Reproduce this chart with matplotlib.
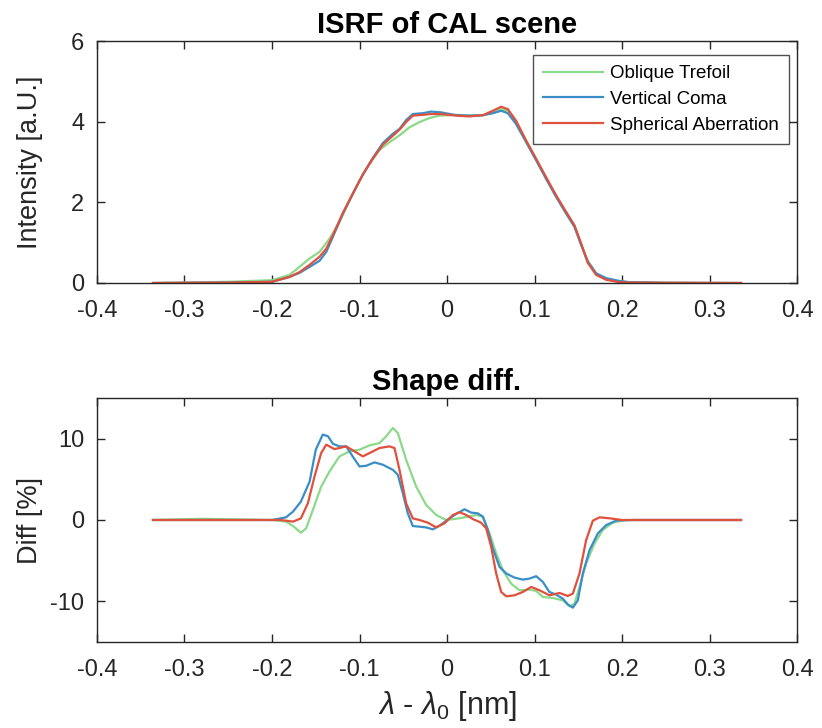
import matplotlib
matplotlib.use("Agg")
import matplotlib.pyplot as plt

plt.rcParams['font.family'] = ['Liberation Sans', 'DejaVu Sans']
plt.rcParams['mathtext.fontset'] = 'custom'
plt.rcParams['mathtext.rm'] = 'Liberation Sans'
plt.rcParams['mathtext.it'] = 'Liberation Sans:italic'

labels = ["Oblique Trefoil", "Vertical Coma", "Spherical Aberration"]
colors = ["#8cd98a", "#3a8ec8", "#e0503c"]

# ---- top panel: ISRF intensity [a.U.] ----
top_x_green = [-0.336, -0.3, -0.25, -0.2, -0.18, -0.1686, -0.157, -0.1457, -0.1343, -0.1229, -0.1114,
               -0.1, -0.0886, -0.0771, -0.0657, -0.0543, -0.0429, -0.0314, -0.02, -0.0086, 0.0029,
               0.0105, 0.0257, 0.041, 0.0524, 0.0619, 0.0695, 0.079, 0.0905, 0.1019, 0.1133,
               0.1248, 0.1362, 0.1457, 0.1533, 0.1609, 0.1705, 0.1819, 0.1971, 0.2086, 0.25, 0.336]
top_y_green = [0, 0.01, 0.03, 0.07, 0.2, 0.4, 0.61, 0.77, 1.1, 1.51, 2.05,
               2.54, 2.96, 3.3, 3.49, 3.66, 3.86, 3.99, 4.09, 4.15, 4.16,
               4.17, 4.15, 4.16, 4.22, 4.31, 4.27, 3.97, 3.51, 3.06, 2.6,
               2.15, 1.74, 1.41, 0.96, 0.55, 0.22, 0.1, 0.04, 0.02, 0.005, 0]

top_x_blue = [-0.336, -0.3, -0.25, -0.2, -0.18, -0.1686, -0.157, -0.1457, -0.138, -0.1305, -0.119,
              -0.1076, -0.0962, -0.0848, -0.0733, -0.0619, -0.0543, -0.0467, -0.039, -0.0276, -0.018,
              -0.0066, 0.0105, 0.0257, 0.041, 0.0524, 0.0619, 0.0695, 0.079, 0.0905, 0.1019,
              0.1133, 0.1248, 0.1362, 0.1457, 0.1533, 0.1609, 0.1705, 0.1819, 0.1971, 0.2086, 0.25, 0.336]
top_y_blue = [0, 0.005, 0.01, 0.03, 0.15, 0.25, 0.4, 0.55, 0.77, 1.14, 1.72,
              2.21, 2.69, 3.1, 3.47, 3.7, 3.82, 4.04, 4.19, 4.21, 4.25,
              4.23, 4.16, 4.15, 4.16, 4.21, 4.27, 4.21, 3.94, 3.49, 3.04,
              2.58, 2.13, 1.72, 1.39, 0.94, 0.53, 0.24, 0.12, 0.05, 0.02, 0.005, 0]

top_x_red = top_x_blue
top_y_red = [0, 0.005, 0.01, 0.03, 0.15, 0.27, 0.45, 0.65, 0.85, 1.18, 1.74,
             2.22, 2.69, 3.08, 3.43, 3.65, 3.8, 3.99, 4.15, 4.17, 4.19,
             4.19, 4.15, 4.13, 4.16, 4.27, 4.37, 4.31, 4.02, 3.53, 3.08,
             2.62, 2.17, 1.76, 1.43, 0.98, 0.5, 0.2, 0.08, 0.02, 0.01, 0.005, 0]

# ---- bottom panel: shape difference [%] ----
bot_x_green = [-0.336, -0.28, -0.2, -0.184, -0.176, -0.167, -0.161, -0.1533, -0.1438, -0.1343, -0.1229,
               -0.1114, -0.1, -0.0886, -0.0771, -0.0695, -0.0619, -0.0562, -0.0467, -0.0352, -0.0238,
               -0.0124, -0.0009, 0.0143, 0.0238, 0.0333, 0.041, 0.0486, 0.0562, 0.0638, 0.0733,
               0.0829, 0.0943, 0.1019, 0.1095, 0.121, 0.1324, 0.14, 0.1457, 0.1514, 0.159,
               0.1686, 0.178, 0.1895, 0.2029, 0.25, 0.336]
bot_y_green = [0, 0.15, 0, -0.2, -0.74, -1.56, -1.03, 1.23, 4.1, 5.97, 7.82,
               8.44, 8.64, 9.18, 9.46, 10.3, 11.32, 10.7, 7.41, 4.1, 1.85,
               0.62, 0, 0.21, 0.41, 0.62, 0.41, -1.65, -4.1, -6.17, -7.82,
               -8.64, -8.56, -8.72, -9.46, -9.59, -9.88, -10.62, -10.29, -8.23, -5.35,
               -2.88, -1.23, -0.33, 0, 0, 0]

bot_x_blue = [-0.336, -0.2, -0.184, -0.176, -0.167, -0.157, -0.15, -0.142, -0.136, -0.1305, -0.1229,
              -0.1152, -0.1077, -0.1, -0.0923, -0.0829, -0.0734, -0.0619, -0.0562, -0.0505, -0.0448,
              -0.0391, -0.0314, -0.0238, -0.0162, -0.0086, 0.0029, 0.0105, 0.02, 0.0276, 0.0352,
              0.041, 0.0467, 0.0524, 0.06, 0.0677, 0.0771, 0.0867, 0.0943, 0.1019, 0.1095,
              0.117, 0.1248, 0.1324, 0.138, 0.1438, 0.1495, 0.1552, 0.1629, 0.1724, 0.1819,
              0.1933, 0.2124, 0.336]
bot_y_blue = [0, 0, 0.33, 1.03, 2.26, 4.73, 8.64, 10.5, 10.3, 9.38, 9.05,
              9.05, 7.8, 6.58, 6.67, 7.08, 6.8, 6.17, 5.56, 3.29, 0.82,
              -0.74, -0.82, -0.91, -1.15, -0.7, 0.21, 0.74, 1.32, 0.91, 0.82,
              0.41, -1.23, -3.5, -5.76, -6.58, -7.08, -7.33, -7.2, -6.91, -7.61,
              -8.85, -9.18, -9.67, -10.37, -10.78, -9.88, -6.58, -3.7, -1.65, -0.62,
              -0.08, 0, 0]

bot_x_red = [-0.336, -0.19, -0.176, -0.167, -0.159, -0.1514, -0.1438, -0.138, -0.1286, -0.1229, -0.1152,
             -0.1057, -0.0962, -0.0886, -0.0771, -0.0657, -0.06, -0.0543, -0.0467, -0.0391, -0.0314,
             -0.0219, -0.0124, -0.0029, 0.0067, 0.0143, 0.0219, 0.0295, 0.039, 0.0448, 0.0505,
             0.0562, 0.0619, 0.0677, 0.0771, 0.0867, 0.0962, 0.1057, 0.1171, 0.1286, 0.138,
             0.1438, 0.1514, 0.159, 0.1667, 0.1743, 0.1857, 0.2, 0.336]
bot_y_red = [0, 0, -0.2, 0.2, 2.06, 5.35, 8.23, 9.26, 8.72, 8.85, 9.05,
             8.44, 7.82, 8.23, 8.85, 9.05, 8.85, 6.17, 2.06, 0.2, 0,
             -0.33, -0.91, -0.41, 0.62, 0.95, 0.62, 0.12, -0.33, -1.03, -3.29,
             -6.58, -8.85, -9.38, -9.26, -8.85, -8.23, -8.64, -9.26, -8.97, -9.34,
             -9.05, -6.58, -2.47, -0.08, 0.33, 0.21, 0, 0]

xticks = [-0.4, -0.3, -0.2, -0.1, 0, 0.1, 0.2, 0.3, 0.4]
xticklabels = ["-0.4", "-0.3", "-0.2", "-0.1", "0", "0.1", "0.2", "0.3", "0.4"]
top_yticks = [0, 2, 4, 6]
top_yticklabels = ["0", "2", "4", "6"]
bot_yticks = [-10, 0, 10]
bot_yticklabels = ["-10", "0", "10"]

fig = plt.figure(figsize=(8.22, 7.28), dpi=100)
ax1 = fig.add_axes([0.118, 1 - 283 / 728, 0.8516, 242 / 728])
ax2 = fig.add_axes([0.118, 1 - 642 / 728, 0.8516, 244 / 728])

lw = 1.6
ax1.plot(top_x_green, top_y_green, color=colors[0], lw=lw, label=labels[0])
ax1.plot(top_x_blue, top_y_blue, color=colors[1], lw=lw, label=labels[1])
ax1.plot(top_x_red, top_y_red, color=colors[2], lw=lw, label=labels[2])

ax2.plot(bot_x_green, bot_y_green, color=colors[0], lw=lw)
ax2.plot(bot_x_blue, bot_y_blue, color=colors[1], lw=lw)
ax2.plot(bot_x_red, bot_y_red, color=colors[2], lw=lw)

for ax in (ax1, ax2):
    ax.set_xlim(-0.4, 0.4)
    ax.set_xticks(xticks)
    ax.set_xticklabels(xticklabels)
    ax.tick_params(direction='in', top=True, right=True, labelsize=17, length=6, width=1,
                   colors='#262626')
    ax.tick_params(axis='x', pad=12)
    ax.tick_params(axis='y', pad=9)
    for s in ax.spines.values():
        s.set_linewidth(1.0)
        s.set_color('#262626')

ax1.set_ylim(0, 6)
ax1.set_yticks(top_yticks)
ax1.set_yticklabels(top_yticklabels)
ax1.set_title("ISRF of CAL scene", fontsize=21, fontweight='bold', pad=6)
ax1.set_ylabel("Intensity [a.U.]", fontsize=19.5, color='#262626')
ax1.yaxis.set_label_coords(-0.077, 0.5)

ax2.set_ylim(-15, 15)
ax2.set_yticks(bot_yticks)
ax2.set_yticklabels(bot_yticklabels)
ax2.set_title("Shape diff.", fontsize=21, fontweight='bold', pad=6)
ax2.set_ylabel("Diff [%]", fontsize=19.5, color='#262626')
ax2.yaxis.set_label_coords(-0.077, 0.5)
ax2.set_xlabel(r"$\lambda$ - $\lambda_0$ [nm]", fontsize=22, color='#262626', labelpad=6)

leg = ax1.legend(loc='upper right', bbox_to_anchor=(0.9886, 0.942), borderaxespad=0,
                 fontsize=13.5, frameon=True, fancybox=False, edgecolor='#262626',
                 handlelength=3.2, labelspacing=0.45, borderpad=0.55, handletextpad=0.37)
leg.get_frame().set_linewidth(1.0)

fig.savefig("out.png", dpi=100)
